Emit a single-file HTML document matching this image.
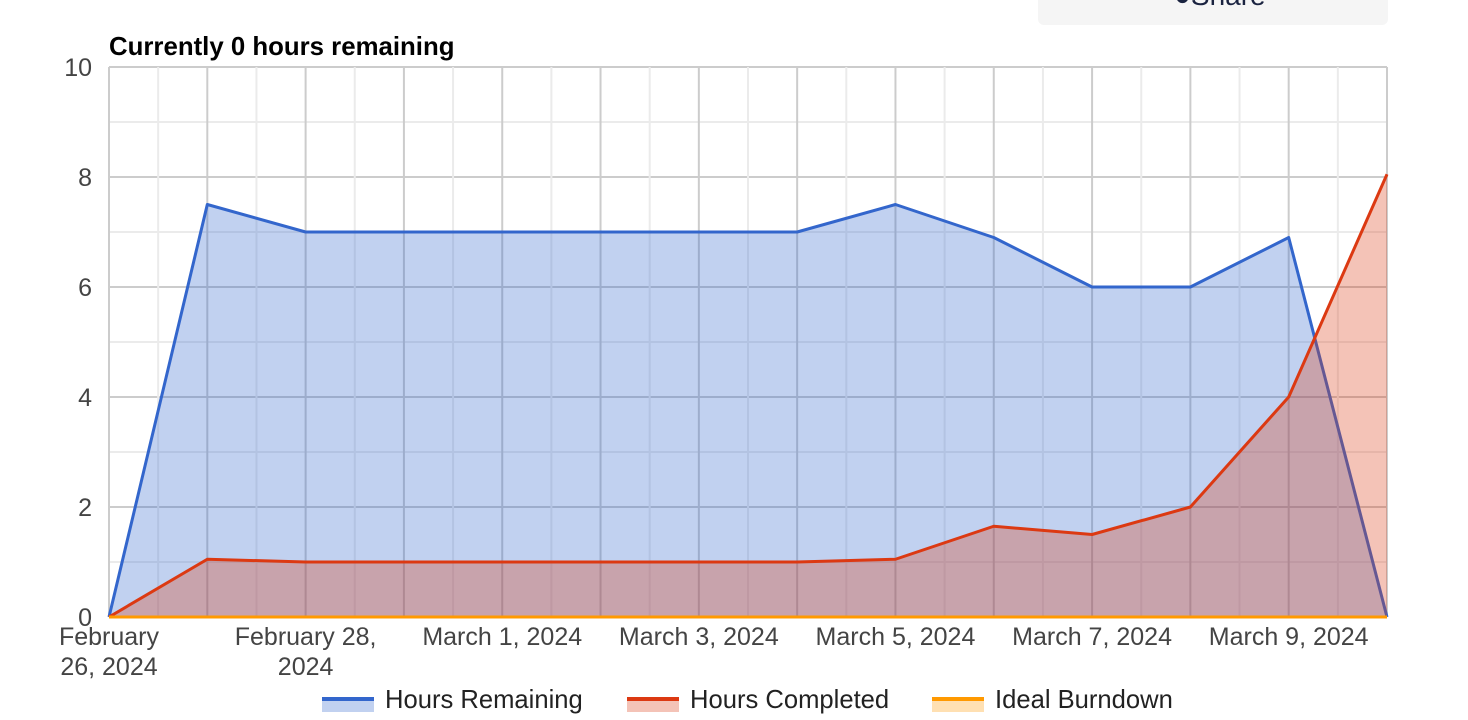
<!DOCTYPE html>
<html><head><meta charset="utf-8"><style>
body{margin:0;width:1468px;height:720px;background:#fff;overflow:hidden;font-family:"Liberation Sans",Arial,sans-serif;position:relative}
#share{position:absolute;left:1038px;top:-10px;width:350px;height:35px;background:#f5f5f5;border-radius:6px;overflow:hidden}
#share span{position:absolute;left:136px;top:-10px;font-size:28px;color:#1a2340}
</style></head><body>
<div id="share"><span>●Share</span></div>
<svg id="c" width="1468" height="720" style="position:absolute;left:0;top:0"></svg>
<script>
const dates=["February 26, 2024","February 27, 2024","February 28, 2024","February 29, 2024","March 1, 2024","March 2, 2024","March 3, 2024","March 4, 2024","March 5, 2024","March 6, 2024","March 7, 2024","March 8, 2024","March 9, 2024","March 10, 2024"];
const remaining=[0,7.5,7,7,7,7,7,7,7.5,6.9,6,6,6.9,0];
const completed=[0,1.05,1,1,1,1,1,1,1.05,1.65,1.5,2,4,8.05];
const ideal=[0,0,0,0,0,0,0,0,0,0,0,0,0,0];
const yTicks=[0,2,4,6,8,10];
const xTickLabels=[["February","26, 2024"],["February 28,","2024"],["March 1, 2024"],["March 3, 2024"],["March 5, 2024"],["March 7, 2024"],["March 9, 2024"]];
const xTickIdx=[0,2,4,6,8,10,12];
const L=109,R=1387,T=67,B=617,yMax=10;
const svg=document.getElementById('c');const NS='http://www.w3.org/2000/svg';
const X=i=>L+(R-L)*i/(dates.length-1);
const Y=v=>B-(B-T)*v/yMax;
function mk(t,a,p){const e=document.createElementNS(NS,t);for(const k in a)e.setAttribute(k,a[k]);(p||svg).appendChild(e);return e;}
let g=mk('g',{});


for(let v=0;v<=yMax;v++){mk('line',{x1:L,x2:R,y1:Y(v),y2:Y(v),stroke:v%2?'#ebebeb':'#cccccc','stroke-width':2},g);}
for(let i=0;i<=(dates.length-1)*2;i++){const x=L+(R-L)*i/((dates.length-1)*2);mk('line',{x1:x,x2:x,y1:T,y2:B,stroke:i%2?'#ebebeb':'#cccccc','stroke-width':2},g);}
function area(vals,fill,stroke,name){
 let d='M'+X(0)+','+Y(0);vals.forEach((v,i)=>d+=' L'+X(i)+','+Y(v));d+=' L'+X(vals.length-1)+','+Y(0)+'Z';
 const a=mk('path',{d:d,fill:fill,'fill-opacity':0.3});
 
 
 const p=mk('polyline',{points:vals.map((v,i)=>X(i)+','+Y(v)).join(' '),fill:'none',stroke:stroke,'stroke-width':3,'stroke-linejoin':'round'});
 
 
}
area(remaining,'#3366cc','#3366cc','hours-remaining');
area(completed,'#dc3912','#dc3912','hours-completed');
area(ideal,'#ff9900','#ff9900','ideal-burndown');
yTicks.forEach(v=>{const t=mk('text',{x:92,y:Y(v)+9,'text-anchor':'end','font-size':25,fill:'#444'});t.textContent=v;
 
 });
xTickIdx.forEach((idx,k)=>{const t=mk('text',{x:X(idx),y:645,'text-anchor':'middle','font-size':25,fill:'#444'});
 
 
 xTickLabels[k].forEach((s,j)=>{const ts=mk('tspan',{x:X(idx),dy:j?30:0},t);ts.textContent=s;});});
const ttl=mk('text',{x:109,y:55,'font-size':25.8,'font-weight':'bold',fill:'#000'});ttl.textContent='Currently 0 hours remaining';


const leg=[['Hours Remaining','#3366cc',322],['Hours Completed','#dc3912',627],['Ideal Burndown','#ff9900',932]];
leg.forEach(([n,c,x])=>{const lg=mk('g',{});
 
 
 mk('rect',{x:x,y:700,width:52,height:12,fill:c,'fill-opacity':0.3},lg);
 mk('line',{x1:x,x2:x+52,y1:699,y2:699,stroke:c,'stroke-width':4},lg);
 const t=mk('text',{x:x+63,y:708,'font-size':25.6,fill:'#222'},lg);t.textContent=n;});
</script>
</body></html>
